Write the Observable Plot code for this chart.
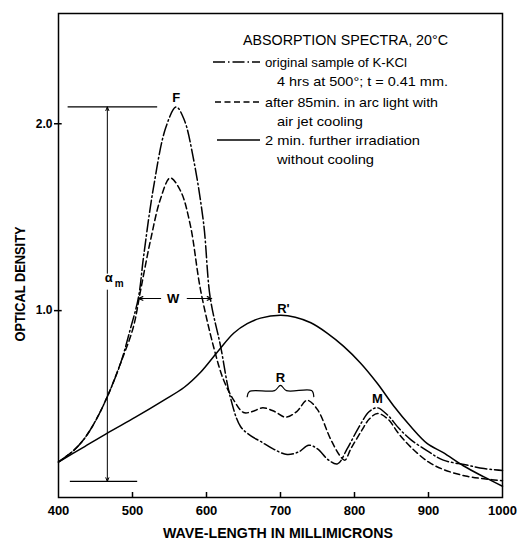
<!DOCTYPE html>
<html><head><meta charset="utf-8">
<script src="https://cdn.jsdelivr.net/npm/d3@7"></script>
<script src="https://cdn.jsdelivr.net/npm/@observablehq/plot@0.6"></script>
<style>body{margin:0;background:#fff} svg{display:block}</style>
</head><body><div id="chart"></div>
<script>
// ---- data ----
const xTicks = [400, 500, 600, 700, 800, 900, 1000];
const yTicks = [1.0, 2.0];

// original sample (dash-dot)
const origWl = [400,420,434,450,466,484,497,508,515,528,545,559,570,582,596,605,619,632,646,660,673,690,709,725,738,750,765,777,790,805,820,831,845,860,876,900,920,950,975,1000];
const origOd = [0.19,0.25,0.31,0.41,0.54,0.72,0.90,1.07,1.29,1.65,1.98,2.09,2.02,1.82,1.47,1.07,0.81,0.54,0.38,0.33,0.30,0.26,0.23,0.245,0.28,0.26,0.20,0.18,0.26,0.37,0.46,0.48,0.44,0.37,0.31,0.245,0.20,0.175,0.155,0.145];
// after 85 min arc light (dashed)
const arcWl = [400,420,434,450,466,484,501,511,524,538,551,565,578,592,610,623,637,650,662,676,692,707,722,736,750,768,781,787,795,810,820,831,845,860,876,900,920,950,975,1000];
const arcOd = [0.19,0.25,0.31,0.41,0.54,0.72,0.91,1.11,1.37,1.60,1.71,1.64,1.46,1.11,0.80,0.63,0.52,0.455,0.46,0.48,0.46,0.43,0.46,0.52,0.47,0.31,0.22,0.20,0.26,0.36,0.42,0.45,0.42,0.34,0.27,0.19,0.15,0.115,0.10,0.09];
// 2 min further irradiation (solid)
const irrWl = [400,433,466,504,542,570,592,615,637,655,673,700,720,741,763,785,808,831,853,876,898,920,947,975,1000];
const irrOd = [0.19,0.267,0.345,0.43,0.52,0.59,0.67,0.78,0.88,0.93,0.96,0.975,0.965,0.935,0.88,0.81,0.72,0.61,0.49,0.38,0.29,0.24,0.17,0.11,0.06];

// annotations (data coordinates)
const hRules = [{x1: 413, x2: 534, y: 2.09}, {x1: 416, x2: 507, y: 0.086}];
const alphaArrows = [{x1: 466, y1: 1.20, x2: 466, y2: 2.09}, {x1: 466, y1: 1.11, x2: 466, y2: 0.086}];
const wArrows = [{x1: 538, y1: 1.065, x2: 508, y2: 1.065}, {x1: 574, y1: 1.065, x2: 607, y2: 1.065}];
const labels = [
  {x: 559, y: 2.14, t: "F", s: 13},
  {x: 555, y: 1.065, t: "W", s: 13},
  {x: 704, y: 1.01, t: "R'", s: 13},
  {x: 700, y: 0.64, t: "R", s: 13},
  {x: 831, y: 0.53, t: "M", s: 13}
];
const alphaLabel = [{x: 468, y: 1.175, t: "α", s: 13}, {x: 482, y: 1.145, t: "m", s: 10}];
const braceWl = [655, 658, 692, 700, 708, 742, 745];
const braceOd = [0.54, 0.567, 0.572, 0.60, 0.572, 0.572, 0.54];

const legendTitle = "ABSORPTION SPECTRA, 20°C";
const legendItems = [
  {dash: "12,3,1.5,3", lines: ["original sample of K-KCl", "4 hrs at 500°; t = 0.41 mm."]},
  {dash: "6,3.5", lines: ["after 85min. in arc light with", "air jet cooling"]},
  {dash: null, lines: ["2 min. further irradiation", "without cooling"]}
];

const toRows = (w, o) => w.map((x, i) => ({x, y: o[i]}));
const orig = toRows(origWl, origOd);
const arc = toRows(arcWl, arcOd);
const irr = toRows(irrWl, irrOd);
const brace = toRows(braceWl, braceOd);

const font = "'Liberation Sans', Arial, sans-serif";

const chart = Plot.plot({
  width: 526, height: 543,
  marginLeft: 58, marginRight: 24, marginTop: 13, marginBottom: 46,
  x: {domain: [400, 1000]},
  y: {domain: [0, 2.59]},
  style: {fontFamily: font, background: "white", color: "black"},
  marks: [
    Plot.frame({stroke: "black", strokeWidth: 1.5}),
    Plot.axisX({ticks: xTicks, tickSize: 0, tickPadding: 8, fontSize: 13, fontWeight: "bold", label: null, tickFormat: d => String(d)}),
    Plot.ruleX(xTicks.slice(1, -1), {insetTop: 479, stroke: "black", strokeWidth: 1.5}),
    Plot.axisY({ticks: yTicks, tickSize: 4, tickPadding: 2, fontSize: 12, fontWeight: "bold", label: null, tickFormat: d3.format(".1f"), strokeWidth: 1.5}),
    Plot.ruleY(yTicks, {x1: 400, x2: 405, stroke: "black", strokeWidth: 1.5}),
    Plot.line(irr, {x: "x", y: "y", curve: "catmull-rom", stroke: "black", strokeWidth: 1.5}),
    Plot.line(arc, {x: "x", y: "y", curve: "catmull-rom", stroke: "black", strokeWidth: 1.5, strokeDasharray: "6,3.5"}),
    Plot.line(orig, {x: "x", y: "y", curve: "catmull-rom", stroke: "black", strokeWidth: 1.5, strokeDasharray: "12,3,1.5,3"}),
    Plot.ruleY(hRules, {x1: "x1", x2: "x2", y: "y", stroke: "black", strokeWidth: 1.2}),
    Plot.arrow(alphaArrows, {x1: "x1", y1: "y1", x2: "x2", y2: "y2", stroke: "black", strokeWidth: 1, headLength: 6, headAngle: 45}),
    Plot.arrow(wArrows, {x1: "x1", y1: "y1", x2: "x2", y2: "y2", stroke: "black", strokeWidth: 1.2, headLength: 6, headAngle: 45}),
    Plot.line(brace, {x: "x", y: "y", curve: "catmull-rom", stroke: "black", strokeWidth: 1.2}),
    Plot.text(labels, {x: "x", y: "y", text: "t", fontSize: "s", fontWeight: "bold", fill: "black"}),
    Plot.text(alphaLabel, {x: "x", y: "y", text: "t", fontSize: "s", fontWeight: "bold", fill: "black"})
  ]
});

document.getElementById("chart").append(chart);
const svg = d3.select(chart);

// axis titles
svg.append("text").attr("x", 278).attr("y", 538).attr("text-anchor", "middle")
  .attr("font-family", font).attr("font-size", 14).attr("font-weight", "bold")
  .attr("textLength", 230).attr("lengthAdjust", "spacingAndGlyphs")
  .text("WAVE-LENGTH IN MILLIMICRONS");
svg.append("text").attr("transform", "translate(25,284) rotate(-90)").attr("text-anchor", "middle")
  .attr("font-family", font).attr("font-size", 14).attr("font-weight", "bold")
  .attr("textLength", 115).attr("lengthAdjust", "spacingAndGlyphs")
  .text("OPTICAL DENSITY");

// legend
const lg = svg.append("g").attr("font-family", font).attr("fill", "black").attr("text-anchor", "start");
lg.append("text").attr("x", 243).attr("y", 45).attr("font-size", 14).attr("text-anchor", "start")
  .attr("textLength", 205).attr("lengthAdjust", "spacingAndGlyphs").text(legendTitle);
const rowY = [62, 102, 140];
const lineStart = [213, 215, 217];
const widths = [[142, 171], [173, 86], [155, 97]];
legendItems.forEach((it, i) => {
  const ln = lg.append("line").attr("x1", lineStart[i]).attr("x2", 260)
    .attr("y1", rowY[i]).attr("y2", rowY[i]).attr("stroke", "black").attr("stroke-width", 1.5);
  if (it.dash) ln.attr("stroke-dasharray", it.dash);
  lg.append("text").attr("x", 265).attr("y", rowY[i] + 4.5).attr("font-size", 13).attr("text-anchor", "start")
    .attr("textLength", widths[i][0]).attr("lengthAdjust", "spacingAndGlyphs").text(it.lines[0]);
  lg.append("text").attr("x", 277).attr("y", rowY[i] + 24).attr("font-size", 13).attr("text-anchor", "start")
    .attr("textLength", widths[i][1]).attr("lengthAdjust", "spacingAndGlyphs").text(it.lines[1]);
});
</script></body></html>
